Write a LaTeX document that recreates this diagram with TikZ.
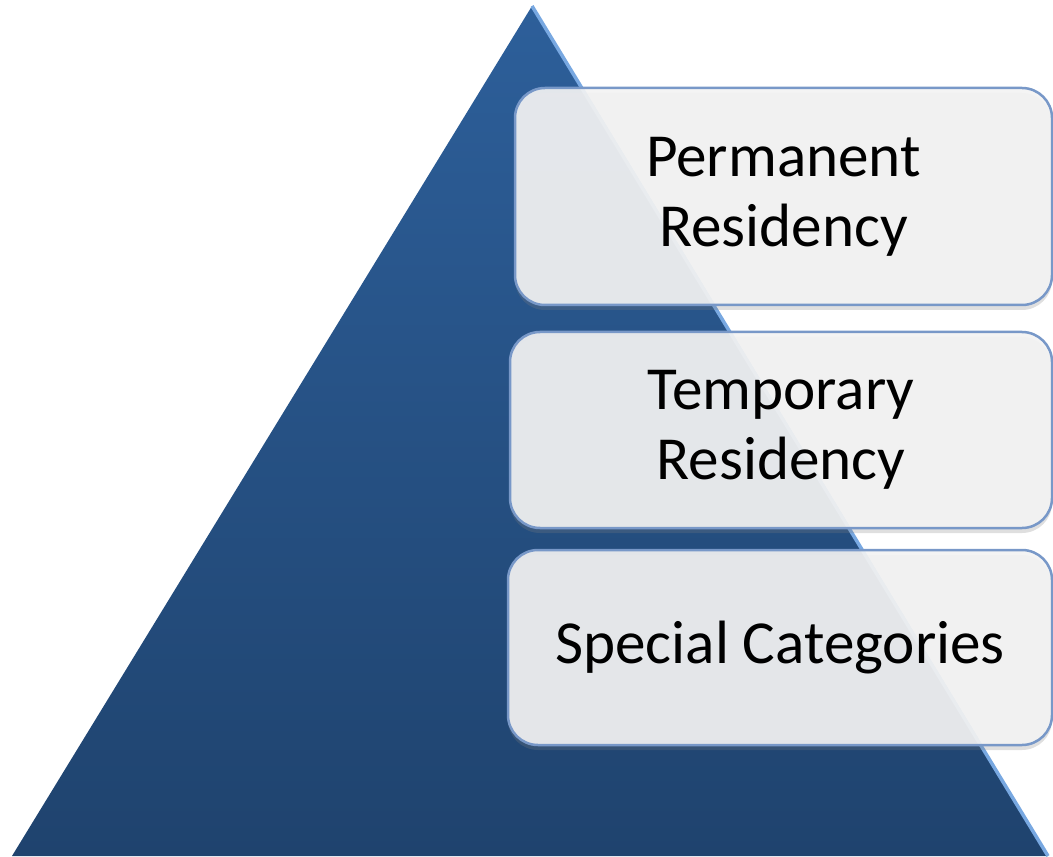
\documentclass[tikz,border=0pt]{standalone}
\usepackage{fontspec}
\setmainfont{Carlito}
\usepackage{tikz}
\usetikzlibrary{positioning}
\usetikzlibrary{shadows}
\definecolor{pyrtop}{RGB}{45,95,154}
\definecolor{pyrbot}{RGB}{31,67,110}
\definecolor{pyredge}{RGB}{120,168,225}
\definecolor{boxline}{RGB}{120,152,200}
\definecolor{boxfill}{RGB}{243,243,243}
\tikzset{level box/.style={rectangle,rounded corners=3mm,draw=boxline,line width=0.25mm,fill=boxfill,fill opacity=0.92,text opacity=1,align=center,inner sep=0pt,font=\fontsize{17.4}{19.9}\selectfont,drop shadow={shadow xshift=0mm,shadow yshift=-0.5mm,opacity=0.25}},}

\begin{document}
\begin{tikzpicture}[x=0.1mm, y=-0.1mm]
	\useasboundingbox (0,0) rectangle (1053,857);
	% pyramid
	\shade[top color=pyrtop, bottom color=pyrbot] (532,6) coordinate (apex) -- (1048,856) coordinate (baseR) -- (12,856) coordinate (baseL) -- cycle;
	\draw[pyredge, line width=0.35mm] (apex) -- (baseR);

	% levels
	\node[level box, minimum width=53.7mm, minimum height=21.7mm] (perm) at (783.5,196.5) {Permanent\\Residency};
	\node[level box, minimum width=54.2mm, minimum height=19.6mm] (temp) at (781,430) {Temporary\\Residency};
	\node[level box, minimum width=54.4mm, minimum height=19.5mm] (spec) at (780,647.5) {Special Categories};
\end{tikzpicture}
\end{document}
